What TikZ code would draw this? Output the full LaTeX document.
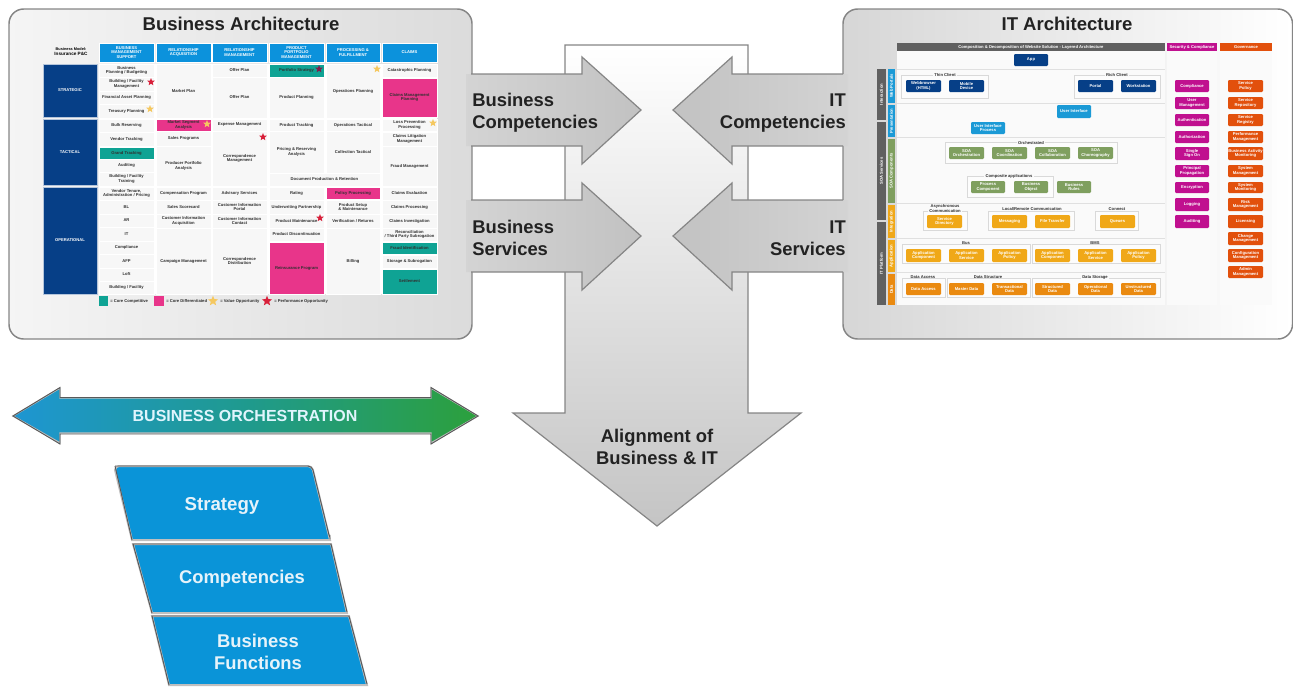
\documentclass[tikz,border=0pt]{standalone}
\usepackage{fontspec}
\setmainfont{Liberation Sans}
\usetikzlibrary{shapes.geometric}
\definecolor{headblue}{HTML}{0C92DC}
\definecolor{navy}{HTML}{063F87}
\definecolor{tealc}{HTML}{0FA394}
\definecolor{pinkc}{HTML}{E8358A}
\definecolor{cellg}{HTML}{F7F7F7}
\definecolor{edgeg}{HTML}{858585}
\definecolor{barg}{HTML}{606060}
\definecolor{lblue}{HTML}{1B9AD6}
\definecolor{greenb}{HTML}{7F9F5F}
\definecolor{yellowb}{HTML}{F0A818}
\definecolor{orangeb}{HTML}{EA8A10}
\definecolor{magb}{HTML}{C0108F}
\definecolor{redb}{HTML}{E2500C}
\definecolor{para}{HTML}{0A94D8}
\definecolor{parat}{HTML}{E6F3FA}
\definecolor{txtd}{HTML}{222222}
\definecolor{ystar}{HTML}{F5C860}
\definecolor{rstar}{HTML}{D8203A}
\definecolor{orchl}{HTML}{1E96D2}
\definecolor{orchm}{HTML}{1F9A8E}
\definecolor{orchr}{HTML}{2CA03C}
\definecolor{celltxt}{HTML}{303030}
\tikzset{
  x=0.75pt,y=-0.75pt,
  lbl/.style={font=\fontsize{3.1}{3.6}\selectfont\bfseries,align=center,inner sep=0pt},
  big/.style={font=\fontsize{13.8}{16.5}\selectfont\bfseries,inner sep=0pt,text=txtd},
  cellb/.style={fill=cellg,draw=white,line width=0.6pt},
  headb/.style={fill=headblue,draw=white,line width=0.4pt},
  bandb/.style={fill=navy,draw=white!70!navy,line width=0.4pt},
  tealb/.style={fill=tealc,draw=white,line width=0.4pt},
  pinkb/.style={fill=pinkc,draw=white,line width=0.4pt},
  navyb/.style={fill=navy,rounded corners=0.8pt},
  lblueb/.style={fill=lblue,rounded corners=0.8pt},
  greenbx/.style={fill=greenb,rounded corners=0.8pt},
  yellowbx/.style={fill=yellowb,rounded corners=0.8pt},
  orangebx/.style={fill=orangeb,rounded corners=0.8pt},
  magbx/.style={fill=magb,rounded corners=0.8pt},
  redbx/.style={fill=redb,rounded corners=0.8pt},
  grp/.style={draw=black!15,line width=0.5pt,fill=white!60!cellg},
  sep/.style={draw=black!12,line width=0.5pt},
  panel/.style={draw=edgeg,line width=1.1pt,rounded corners=11pt},
  edgeline/.style={draw=edgeg,line width=0.9pt},
  starn/.style={star,star points=5,star point ratio=2.3,inner sep=0pt,minimum size=6pt},
  paralight/.style={draw=black!25,line width=1.5pt},
  paradark/.style={draw=black!65,line width=0.7pt},
}
\newcommand{\cel}[8][celltxt]{\path[#7] (#3,#4) rectangle node[lbl,text=#1] (#2) {#8} (#5,#6);}
\begin{document}
\begin{tikzpicture}
\useasboundingbox (0,0) rectangle (1293,686);
% panels
\shade[left color=white!96!black,right color=black!14,panel] (9,9) rectangle (472,339);
\shade[left color=black!16,right color=white,panel] (843,9) rectangle (1292.5,339);
\node[font=\fontsize{13.9}{16}\selectfont\bfseries,inner sep=0pt,text=txtd] (titleb) at (241,24) {Business Architecture};
\node[font=\fontsize{13.9}{16}\selectfont\bfseries,inner sep=0pt,text=txtd] (titlei) at (1067,24) {IT Architecture};

% central arrow
\shade[top color=white,bottom color=black!23,draw=edgeg,line width=0.9pt]
  (565,45) -- (748,45) -- (748,413) -- (801,413) -- (657,526) -- (513,413) -- (565,413) -- cycle;
% horizontal arrows
\foreach \yy [count=\i] in {110,236}{
  \shade[left color=black!17,right color=black!24]
    (466,\yy-36) -- (582,\yy-36) -- (582,\yy-53) -- (641,\yy) -- (582,\yy+54) -- (582,\yy+36) -- (466,\yy+36) -- cycle;
  \draw[edgeline,line join=miter] (471,\yy-36) -- (582,\yy-36) -- (582,\yy-53) -- (641,\yy) -- (582,\yy+54) -- (582,\yy+36) -- (471,\yy+36);
  \shade[right color=black!17,left color=black!24]
    (848,\yy-36) -- (732,\yy-36) -- (732,\yy-53) -- (673,\yy) -- (732,\yy+54) -- (732,\yy+36) -- (848,\yy+36) -- cycle;
  \draw[edgeline,line join=miter] (843,\yy-36) -- (732,\yy-36) -- (732,\yy-53) -- (673,\yy) -- (732,\yy+54) -- (732,\yy+36) -- (843,\yy+36);
}
\node[big,align=left,anchor=west] (bc) at (472,113) {Business\\Competencies};
\node[big,align=left,anchor=west] (bs) at (472,238) {Business\\Services};
\node[big,align=right,anchor=east] (ic) at (846,113) {IT\\Competencies};
\node[big,align=right,anchor=east] (is) at (846,238) {IT\\Services};
\node[big,align=center] (al) at (657,447) {Alignment of\\Business \& IT};

% orchestration arrow
\shade[left color=orchl,right color=orchr,middle color=orchm]
  (13,416) -- (60,388) -- (60,398) -- (431,398) -- (431,388) -- (478,416) -- (431,443) -- (431,433) -- (60,433) -- (60,443) -- cycle;
\draw[paralight,line width=1.1pt]
  (13,416) -- (60,388) -- (60,398) -- (431,398) -- (431,388) -- (478,416) -- (431,443) -- (431,433) -- (60,433) -- (60,443) -- cycle;
\draw[paradark]
  (13,416) -- (60,387.5) -- (60,397.5) -- (431,397.5) -- (431,387.5) -- (478,416) -- (431,444) -- (431,434) -- (60,434) -- (60,444) -- cycle;
\node[font=\fontsize{12}{14}\selectfont\bfseries,inner sep=0pt,text=white!88!cyan] (orch) at (245,416) {BUSINESS ORCHESTRATION};

% parallelograms
\path[fill=para,paralight] (115,470) [rounded corners=3pt] -- (115,466) -- (312,466) [sharp corners] -- (330,540) -- (132,540) -- cycle;
\draw[paradark,rounded corners=3pt] (115,466) -- (312,466) -- (330,539) [sharp corners] -- (330,539);
\draw[paradark,rounded corners=3pt] (132,540) -- (115,466);
\path[fill=para,paralight] (133,544) -- (331,544) -- (347,613) -- (152,613) -- cycle;
\draw[paradark] (152,613) -- (133,544) -- (331,544) -- (347,612);
\path[fill=para,paralight] (152,616) -- (349,616) -- (367,685) -- (169,685) -- cycle;
\draw[paradark] (169,685) -- (152,616) -- (349,616) -- (367,684);
\node[big,text=parat,font=\fontsize{14}{16.5}\selectfont\bfseries] (p1) at (222,506) {Strategy};
\node[big,text=parat] (p2) at (242,579) {Competencies};
\node[big,text=parat,align=center] (p3) at (258,651.5) {Business\\Functions};

% ---------- business table ----------
\fill[white] (99,64) rectangle (437,294);
\node[lbl] (bm) at (71,52) {\fontsize{2.9}{4}\selectfont Business Model:\\\fontsize{3.5}{4}\selectfont Insurance P\&C};
\cel[white]{h1}{99}{43}{154}{62}{headb}{BUSINESS\\MANAGEMENT\\SUPPORT}
\cel[white]{h2}{156}{43}{211}{62}{headb}{RELATIONSHIP\\ACQUISITION}
\cel[white]{h3}{212}{43}{267}{62}{headb}{RELATIONSHIP\\MANAGEMENT}
\cel[white]{h4}{269}{43}{324}{62}{headb}{PRODUCT\\PORTFOLIO\\MANAGEMENT}
\cel[white]{h5}{326}{43}{380}{62}{headb}{PROCESSING \&\\FULFILLMENT}
\cel[white]{h6}{382}{43}{437}{62}{headb}{CLAIMS}
\cel[white]{b1}{43}{64}{97}{117}{bandb}{STRATEGIC}
\cel[white]{b2}{43}{119}{97}{185}{bandb}{TACTICAL}
\cel[white]{b3}{43}{187}{97}{294}{bandb}{OPERATIONAL}
% col 1
\cel{a1}{99}{64}{154}{77}{cellb}{Business\\Planning / Budgeting}
\cel{a2}{99}{77}{154}{91}{cellb}{Building / Facility\\Management}
\cel{a3}{99}{91}{154}{104}{cellb}{Financial Asset Planning}
\cel{a4}{99}{104}{154}{118}{cellb}{Treasury Planning}
\cel{a5}{99}{119}{154}{132}{cellb}{Bulk Reserving}
\cel{a6}{99}{132}{154}{146}{cellb}{Vendor Tracking}
\cel{a7}{99}{147}{154}{159}{tealb}{Grand Tracking}
\cel{a8}{99}{159}{154}{172}{cellb}{Auditing}
\cel{a9}{99}{172}{154}{186}{cellb}{Building / Facility\\Training}
\cel{a10}{99}{187}{154}{200}{cellb}{Vendor Tenure,\\Administration / Pricing}
\cel{a11}{99}{200}{154}{214}{cellb}{BL}
\cel{a12}{99}{214}{154}{227}{cellb}{AR}
\cel{a13}{99}{227}{154}{241}{cellb}{IT}
\cel{a14}{99}{241}{154}{254}{cellb}{Compliance}
\cel{a15}{99}{254}{154}{268}{cellb}{AFP}
\cel{a16}{99}{268}{154}{281}{cellb}{Loft}
\cel{a17}{99}{281}{154}{294}{cellb}{Building / Facility}
% col 2
\cel{c1}{156}{64}{211}{118}{cellb}{Market Plan}
\cel{c2}{156}{119}{211}{131}{pinkb}{Market Segment\\Analysis}
\cel{c3}{156}{131}{211}{146}{cellb}{Sales Programs}
\cel{c4}{156}{146}{211}{186}{cellb}{Producer Portfolio\\Analysis}
\cel{c5}{156}{187}{211}{200}{cellb}{Compensation Program}
\cel{c6}{156}{200}{211}{214}{cellb}{Sales Scorecard}
\cel{c7}{156}{214}{211}{228}{cellb}{Customer Information\\Acquisition}
\cel{c8}{156}{228}{211}{294}{cellb}{Campaign Management}
% col 3
\cel{d1}{212}{64}{267}{77}{cellb}{Offer Plan}
\cel{d2}{212}{77}{267}{118}{cellb}{Offer Plan}
\cel{d3}{212}{119}{267}{131}{cellb}{Expense Management}
\cel{d4}{212}{131}{267}{186}{cellb}{Correspondence\\Management}
\cel{d5}{212}{187}{267}{200}{cellb}{Advisory Services}
\cel{d6}{212}{200}{267}{214}{cellb}{Customer Information\\Portal}
\cel{d7}{212}{214}{267}{228}{cellb}{Customer Information\\Contact}
\cel{d8}{212}{228}{267}{294}{cellb}{Correspondence\\Distribution}
% col 4
\cel{e1}{269}{64}{324}{77}{tealb}{Portfolio Strategy}
\cel{e2}{269}{77}{324}{118}{cellb}{Product Planning}
\cel{e3}{269}{119}{324}{131}{cellb}{Product Tracking}
\cel{e4}{269}{131}{324}{173}{cellb}{Pricing \& Reserving\\Analysis}
\cel{e5}{269}{173}{380}{186}{cellb}{Document Production \& Retention}
\cel{e6}{269}{187}{324}{200}{cellb}{Rating}
\cel{e7}{269}{200}{324}{214}{cellb}{Underwriting Partnership}
\cel{e8}{269}{214}{324}{228}{cellb}{Product Maintenance}
\cel{e9}{269}{228}{324}{241}{cellb}{Product Discontinuation}
\cel{e10}{269}{242}{324}{294}{pinkb}{Reinsurance Program}
% col 5
\cel{f1}{326}{64}{380}{118}{cellb}{Operations Planning}
\cel{f2}{326}{119}{380}{131}{cellb}{Operations Tactical}
\cel{f3}{326}{131}{380}{173}{cellb}{Collection Tactical}
\cel{f4}{326}{187}{380}{199}{pinkb}{Policy Processing}
\cel{f5}{326}{200}{380}{214}{cellb}{Product Setup\\\& Maintenance}
\cel{f6}{326}{214}{380}{228}{cellb}{Verification / Returns}
\cel{f7}{326}{228}{380}{294}{cellb}{Billing}
% col 6
\cel{g1}{382}{64}{437}{77}{cellb}{Catastrophic Planning}
\cel{g2}{382}{78}{437}{117}{pinkb}{Claims Management\\Planning}
\cel{g3}{382}{119}{437}{131}{cellb}{Loss Prevention\\Processing}
\cel{g4}{382}{132}{437}{146}{cellb}{Claims Litigation\\Management}
\cel{g5}{382}{146}{437}{186}{cellb}{Fraud Management}
\cel{g6}{382}{187}{437}{200}{cellb}{Claims Evaluation}
\cel{g7}{382}{200}{437}{214}{cellb}{Claims Processing}
\cel{g8}{382}{214}{437}{228}{cellb}{Claims Investigation}
\cel{g9}{382}{228}{437}{241}{cellb}{Reconciliation\\/ Third Party Subrogation}
\cel{g10}{382}{242}{437}{254}{tealb}{Fraud Identification}
\cel{g11}{382}{255}{437}{268}{cellb}{Storage \& Subrogation}
\cel{g12}{382}{269}{437}{294}{tealb}{Settlement}
% stars
\node[starn,fill=rstar] (s1) at (151,82) {};
\node[starn,fill=ystar] (s2) at (150,109) {};
\node[starn,fill=ystar] (s3) at (207,124) {};
\node[starn,fill=rstar] (s4) at (263,137) {};
\node[starn,fill=black!45!pinkc] (s5) at (319,69) {};
\node[starn,fill=ystar] (s6) at (377,69) {};
\node[starn,fill=ystar] (s7) at (433,123) {};
\node[starn,fill=rstar] (s8) at (320,218) {};
% legend
\path[fill=tealc] (99,296) rectangle node (l1) {} (108,306);
\node[lbl,anchor=west,text=celltxt] (l1t) at (110,301) {= Core Competitive};
\path[fill=pinkc] (154,296) rectangle node (l2) {} (164,306);
\node[lbl,anchor=west,text=celltxt] (l2t) at (166,301) {= Core Differentiated};
\node[starn,fill=ystar,minimum size=8pt] (l3) at (213,301) {};
\node[lbl,anchor=west,text=celltxt] (l3t) at (220,301) {= Value Opportunity};
\node[starn,fill=rstar,minimum size=8pt] (l4) at (267,301) {};
\node[lbl,anchor=west,text=celltxt] (l4t) at (274,301) {= Performance Opportunity};

% ---------- IT table ----------
\fill[white!40!cellg] (897,51) rectangle (1165,305);
\fill[white!40!cellg] (1167,51) rectangle (1217,305);
\fill[white!40!cellg] (1220,51) rectangle (1272,305);
\cel[white]{t1}{897}{43}{1165}{51}{fill=barg}{Composition \& Decomposition of Website Solution - Layered Architecture}
\cel[white]{t2}{1167}{43}{1217}{51}{fill=magb}{Security \& Compliance}
\cel[white]{t3}{1220}{43}{1272}{51}{fill=redb}{Governance}
\foreach \yy in {69,103,137,203,238,272} \draw[sep] (897,\yy) -- (1165,\yy);
% side strips
\path[fill=barg] (877,69) rectangle node[lbl,text=white,rotate=90] (v1) {Interaction} (886,120);
\path[fill=barg] (877,122) rectangle node[lbl,text=white,rotate=90] (v2) {SOA Services} (886,220);
\path[fill=barg] (877,222) rectangle node[lbl,text=white,rotate=90] (v3) {IT Platform} (886,305);
\path[fill=lblue] (888,69) rectangle node[lbl,text=white,rotate=90] (w1) {Web Portals} (895,103);
\path[fill=lblue] (888,105) rectangle node[lbl,text=white,rotate=90] (w2) {Presentation} (895,137);
\path[fill=greenb] (888,139) rectangle node[lbl,text=white,rotate=90] (w3) {SOA Components} (895,203);
\path[fill=yellowb] (888,205) rectangle node[lbl,text=white,rotate=90] (w4) {Integration} (895,238);
\path[fill=yellowb] (888,240) rectangle node[lbl,text=white,rotate=90] (w5) {Application} (895,272);
\path[fill=orangeb] (888,274) rectangle node[lbl,text=white,rotate=90] (w6) {Data} (895,305);
% groups
\draw[grp] (901,75) rectangle (988,98);
\draw[grp] (1074,75) rectangle (1160,98);
\draw[grp] (945,142) rectangle (1117,163);
\draw[grp] (967,176) rectangle (1053,197);
\draw[grp] (923,211) rectangle (967,230);
\draw[grp] (988,211) rectangle (1074,230);
\draw[grp] (1095,211) rectangle (1138,230);
\draw[grp] (902,244) rectangle (1030,263);
\draw[grp] (1032,244) rectangle (1160,263);
\draw[grp] (902,278) rectangle (945,297);
\draw[grp] (947,278) rectangle (1030,297);
\draw[grp] (1032,278) rectangle (1160,297);
\foreach \n/\x/\y/\t in {q1/945/75/Thin Client,q2/1117/75/Rich Client,q3/1031/143/Orchestrated,q4/1009/176/Composite applications,q7/1117/209.5/Connect,q8/966/243/Bus,q9/1095/243/BMS,q10/923/277/Data Access,q11/988/277/Data Structure,q12/1095/277/Data Storage}
  \node[lbl,text=celltxt,fill=white!40!cellg,inner xsep=1pt] (\n) at (\x,\y) {\t};
\node[lbl,text=celltxt,fill=white!40!cellg,inner xsep=1pt] (q6) at (1032,209.5) {Local/Remote Communication};
\node[lbl,text=celltxt,fill=white!40!cellg,inner xsep=1pt] (q5) at (945,208.5) {Asynchronous\\Communication};
% boxes
\cel[white]{i1}{1014}{54}{1048}{66}{navyb}{App}
\cel[white]{i2}{906}{80}{941}{92}{navyb}{Webbrowser\\(HTML)}
\cel[white]{i3}{949}{80}{984}{92}{navyb}{Mobile\\Device}
\cel[white]{i4}{1078}{80}{1113}{92}{navyb}{Portal}
\cel[white]{i5}{1121}{80}{1156}{92}{navyb}{Workstation}
\cel[white]{i6}{1057}{105}{1091}{118}{lblueb}{User Interface}
\cel[white]{i7}{971}{122}{1005}{134}{lblueb}{User Interface\\Process}
\cel[white]{i8}{949}{147}{984}{159}{greenbx}{SOA\\Orchestration}
\cel[white]{i9}{992}{147}{1027}{159}{greenbx}{SOA\\Coordination}
\cel[white]{i10}{1035}{147}{1070}{159}{greenbx}{SOA\\Collaboration}
\cel[white]{i11}{1078}{147}{1113}{159}{greenbx}{SOA\\Choreography}
\cel[white]{i12}{971}{181}{1005}{193}{greenbx}{Process\\Component}
\cel[white]{i13}{1014}{181}{1048}{193}{greenbx}{Business\\Object}
\cel[white]{i14}{1057}{181}{1091}{193}{greenbx}{Business\\Rules}
\cel[white]{i15}{927}{215}{962}{228}{yellowbx}{Service\\Directory}
\cel[white]{i16}{992}{215}{1027}{228}{yellowbx}{Messaging}
\cel[white]{i17}{1035}{215}{1070}{228}{yellowbx}{File Transfer}
\cel[white]{i18}{1100}{215}{1135}{228}{yellowbx}{Queues}
\cel[white]{i19}{906}{249}{941}{262}{yellowbx}{Application\\Component}
\cel[white]{i20}{949}{249}{984}{262}{yellowbx}{Application\\Service}
\cel[white]{i21}{992}{249}{1027}{262}{yellowbx}{Application\\Policy}
\cel[white]{i22}{1035}{249}{1070}{262}{yellowbx}{Application\\Component}
\cel[white]{i23}{1078}{249}{1113}{262}{yellowbx}{Application\\Service}
\cel[white]{i24}{1121}{249}{1156}{262}{yellowbx}{Application\\Policy}
\cel[white]{i25}{906}{283}{941}{295}{orangebx}{Data Access}
\cel[white]{i26}{949}{283}{984}{295}{orangebx}{Master Data}
\cel[white]{i27}{992}{283}{1027}{295}{orangebx}{Transactional\\Data}
\cel[white]{i28}{1035}{283}{1070}{295}{orangebx}{Structured\\Data}
\cel[white]{i29}{1078}{283}{1113}{295}{orangebx}{Operational\\Data}
\cel[white]{i30}{1121}{283}{1156}{295}{orangebx}{Unstructured\\Data}
% security
\cel[white]{m1}{1175}{80}{1209}{92}{magbx}{Compliance}
\cel[white]{m2}{1175}{97}{1209}{109}{magbx}{User\\Management}
\cel[white]{m3}{1175}{114}{1209}{126}{magbx}{Authentication}
\cel[white]{m4}{1175}{131}{1209}{143}{magbx}{Authorization}
\cel[white]{m5}{1175}{147}{1209}{160}{magbx}{Single\\Sign On}
\cel[white]{m6}{1175}{165}{1209}{177}{magbx}{Principal\\Propagation}
\cel[white]{m7}{1175}{182}{1209}{193}{magbx}{Encryption}
\cel[white]{m8}{1175}{198}{1209}{211}{magbx}{Logging}
\cel[white]{m9}{1175}{215}{1209}{228}{magbx}{Auditing}
% governance
\cel[white]{n1}{1228}{80}{1263}{92}{redbx}{Service\\Policy}
\cel[white]{n2}{1228}{97}{1263}{109}{redbx}{Service\\Repository}
\cel[white]{n3}{1228}{114}{1263}{126}{redbx}{Service\\Registry}
\cel[white]{n4}{1228}{131}{1263}{143}{redbx}{Performance\\Management}
\cel[white]{n5}{1228}{147}{1263}{160}{redbx}{Business Activity\\Monitoring}
\cel[white]{n6}{1228}{165}{1263}{177}{redbx}{System\\Management}
\cel[white]{n7}{1228}{182}{1263}{193}{redbx}{System\\Monitoring}
\cel[white]{n8}{1228}{198}{1263}{211}{redbx}{Risk\\Management}
\cel[white]{n9}{1228}{215}{1263}{228}{redbx}{Licensing}
\cel[white]{n10}{1228}{232}{1263}{245}{redbx}{Change\\Management}
\cel[white]{n11}{1228}{249}{1263}{262}{redbx}{Configuration\\Management}
\cel[white]{n12}{1228}{266}{1263}{278}{redbx}{Admin\\Management}
\end{tikzpicture}
\end{document}
